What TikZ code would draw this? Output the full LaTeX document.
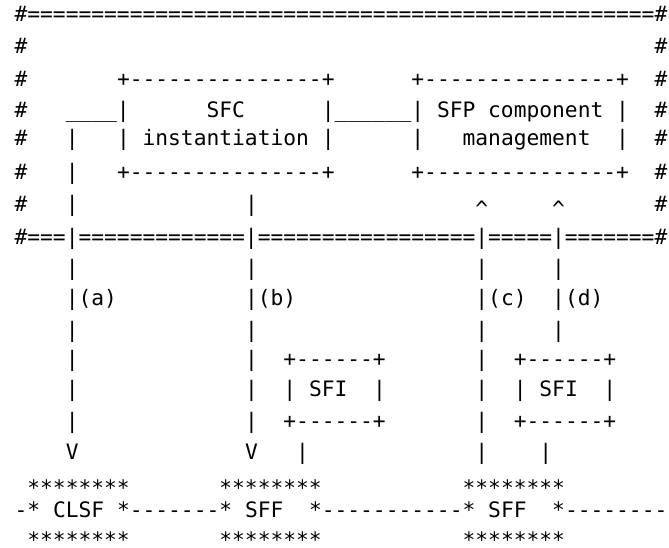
\documentclass[tikz,border=0pt]{standalone}
\usepackage{fontspec}
\newfontfamily\monofnt{DejaVu Sans Mono}[Ligatures=TeXOff]
\tikzset{
  txt/.style={font=\monofnt\fontsize{21.26pt}{25pt}\selectfont, anchor=base west,
              inner sep=0pt, outer sep=0pt, text=black}
}
\newcommand\putch[4]{\node[txt] (#1) at ({14.6+12.8*(#2)},#3) {#4};}
\begin{document}
\begin{tikzpicture}[x=1pt,y=-1pt]
\useasboundingbox[fill=white] (0,0) rectangle (669,547);
% row 0
\putch{r0}{0}{21}{\#=================================================\#}
% row 1
\putch{r1a}{0}{53}{\#}
\putch{r1b}{50}{53}{\#}
% row 2
\putch{r2a}{0}{86}{\#}
\putch{sfctop}{8}{86}{+---------------+}
\putch{sfptop}{31}{86}{+---------------+}
\putch{r2b}{50}{86}{\#}
% row 3
\putch{r3a}{0}{117}{\#}
\putch{r3b}{4}{117}{\_\_\_\_|}
\putch{sfc1}{15}{117}{SFC}
\putch{r3c}{24}{117}{|\_\_\_\_\_\_|}
\putch{sfp1}{33}{117}{SFP component}
\putch{r3d}{47}{117}{|}
\putch{r3e}{50}{117}{\#}
% row 4
\putch{r4a}{0}{145}{\#}
\putch{r4b}{4}{145}{|}
\putch{r4c}{8}{145}{|}
\putch{sfc2}{10}{145}{instantiation}
\putch{r4d}{24}{145}{|}
\putch{r4e}{31}{145}{|}
\putch{sfp2}{35}{145}{management}
\putch{r4f}{47}{145}{|}
\putch{r4g}{50}{145}{\#}
% row 5
\putch{r5a}{0}{179}{\#}
\putch{r5b}{4}{179}{|}
\putch{sfcbot}{8}{179}{+---------------+}
\putch{sfpbot}{31}{179}{+---------------+}
\putch{r5c}{50}{179}{\#}
% row 6
\putch{r6a}{0}{211}{\#}
\putch{r6b}{4}{211}{|}
\putch{r6c}{18}{211}{|}
\putch{r6d}{36}{216}{\textasciicircum}
\putch{r6e}{42}{216}{\textasciicircum}
\putch{r6f}{50}{211}{\#}
% row 7
\putch{r7}{0}{244}{\#===|=============|=================|=====|=======\#}
% row 8
\putch{r8a}{4}{275}{|}
\putch{r8b}{18}{275}{|}
\putch{r8c}{36}{275}{|}
\putch{r8d}{42}{275}{|}
% row 9
\putch{la}{4}{305}{|(a)}
\putch{lb}{18}{305}{|(b)}
\putch{lc}{36}{305}{|(c)}
\putch{ld}{42}{305}{|(d)}
% row 10
\putch{r10a}{4}{337}{|}
\putch{r10b}{18}{337}{|}
\putch{r10c}{36}{337}{|}
\putch{r10d}{42}{337}{|}
% row 11
\putch{r11a}{4}{366}{|}
\putch{r11b}{18}{366}{|}
\putch{sfiatop}{21}{366}{+------+}
\putch{r11c}{36}{366}{|}
\putch{sfibtop}{39}{366}{+------+}
% row 12
\putch{r12a}{4}{396}{|}
\putch{r12b}{18}{396}{|}
\putch{r12c}{21}{396}{|}
\putch{sfia}{23}{396}{SFI}
\putch{r12d}{28}{396}{|}
\putch{r12e}{36}{396}{|}
\putch{r12f}{39}{396}{|}
\putch{sfib}{41}{396}{SFI}
\putch{r12g}{46}{396}{|}
% row 13
\putch{r13a}{4}{428}{|}
\putch{r13b}{18}{428}{|}
\putch{sfiabot}{21}{428}{+------+}
\putch{r13c}{36}{428}{|}
\putch{sfibbot}{39}{428}{+------+}
% row 14
\putch{va}{4}{459}{V}
\putch{vb}{18}{459}{V}
\putch{r14a}{22}{459}{|}
\putch{r14b}{36}{459}{|}
\putch{r14c}{41}{459}{|}
% row 15
\putch{clsfup}{1}{495}{********}
\putch{sffaup}{16}{495}{********}
\putch{sffbup}{35}{495}{********}
% row 16
\putch{r16a}{0}{517}{-*}
\putch{clsf}{3}{517}{CLSF}
\putch{r16b}{8}{517}{*-------*}
\putch{sffa}{18}{517}{SFF}
\putch{r16c}{23}{517}{*-----------*}
\putch{sffb}{37}{517}{SFF}
\putch{r16d}{42}{517}{*--------}
% row 17
\putch{clsfdn}{1}{547}{********}
\putch{sffadn}{16}{547}{********}
\putch{sffbdn}{35}{547}{********}
\end{tikzpicture}
\end{document}
